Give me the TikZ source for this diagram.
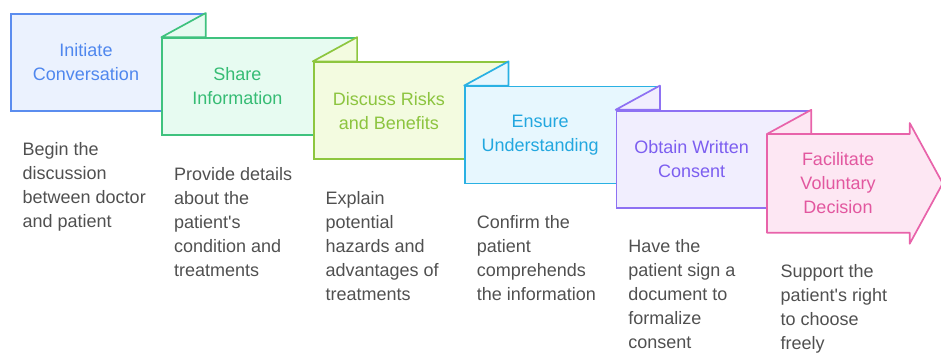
\documentclass[tikz,border=0pt]{standalone}
\usepackage{fontspec}
\setmainfont{Liberation Sans}
\usetikzlibrary{positioning}

\definecolor{blueline}{HTML}{5B8DEF}
\definecolor{bluefill}{HTML}{EBF2FE}
\definecolor{bluetext}{HTML}{4F87EE}
\definecolor{greenline}{HTML}{3FC27E}
\definecolor{greenfill}{HTML}{E7FBF1}
\definecolor{greentext}{HTML}{36BC74}
\definecolor{limeline}{HTML}{8DC63F}
\definecolor{limefill}{HTML}{F3FBE0}
\definecolor{limetext}{HTML}{8CC43F}
\definecolor{cyanline}{HTML}{2AB1E3}
\definecolor{cyanfill}{HTML}{E7F7FE}
\definecolor{cyantext}{HTML}{22A7DF}
\definecolor{purpleline}{HTML}{8E71F3}
\definecolor{purplefill}{HTML}{F1EEFE}
\definecolor{purpletext}{HTML}{7C5EF0}
\definecolor{pinkline}{HTML}{E863AA}
\definecolor{pinkfill}{HTML}{FDE7F3}
\definecolor{pinktext}{HTML}{E2579F}
\definecolor{desctext}{HTML}{505050}

\tikzset{
  stepbox/.style={rectangle, minimum width=194pt, minimum height=97pt,
    inner sep=0pt, line width=1.7pt, anchor=north west},
  fold/.style={line width=1.7pt, line join=round},
  title/.style={align=center, inner sep=0pt, font=\fontsize{18}{24}\selectfont},
  desc/.style={align=left, inner sep=0pt, anchor=north west, text=desctext,
    font=\fontsize{18}{24}\selectfont}
}

\begin{document}
\begin{tikzpicture}[x=1pt, y=-1pt]

  \newcommand\X{151.4}
  \newcommand\Y{24.2}

  \useasboundingbox (0,0) rectangle (941,354);

  % step boxes, each one folded over the one before
  \node[stepbox, draw=blueline, fill=bluefill] (b1) at (10+0*\X, 13+0*\Y) {};

  \node[stepbox, draw=greenline, fill=greenfill] (b2) at (10+1*\X, 13+1*\Y) {};
  \draw[fold, draw=greenline, fill=greenfill] (b2.north west) -- (b1.north east) -- (b1.north east |- b2.north) -- cycle;

  \node[stepbox, draw=limeline, fill=limefill] (b3) at (10+2*\X, 13+2*\Y) {};
  \draw[fold, draw=limeline, fill=limefill] (b3.north west) -- (b2.north east) -- (b2.north east |- b3.north) -- cycle;

  \node[stepbox, draw=cyanline, fill=cyanfill] (b4) at (10+3*\X, 13+3*\Y) {};
  \draw[fold, draw=cyanline, fill=cyanfill] (b4.north west) -- (b3.north east) -- (b3.north east |- b4.north) -- cycle;

  \node[stepbox, draw=purpleline, fill=purplefill] (b5) at (10+4*\X, 13+4*\Y) {};
  \draw[fold, draw=purpleline, fill=purplefill] (b5.north west) -- (b4.north east) -- (b4.north east |- b5.north) -- cycle;

  % last step is an arrow
  \node[stepbox, minimum width=141pt] (b6) at (10+5*\X, 13+5*\Y) {};
  \draw[fold, draw=pinkline, fill=pinkfill] (b6.north west) -- (b6.north east) -- ([yshift=11pt]b6.north east)
    -- ([xshift=33pt]b6.east) -- ([yshift=-11pt]b6.south east) -- (b6.south east) -- (b6.south west) -- cycle;
  \draw[fold, draw=pinkline, fill=pinkfill] (b6.north west) -- (b5.north east) -- (b5.north east |- b6.north) -- cycle;

  % titles
  \node[title, text=bluetext] (t1) at ([xshift=76pt]b1.west) {Initiate\\Conversation};
  \node[title, text=greentext] (t2) at ([xshift=76pt]b2.west) {Share\\Information};
  \node[title, text=limetext] (t3) at ([xshift=76pt]b3.west) {Discuss Risks\\and Benefits};
  \node[title, text=cyantext] (t4) at ([xshift=76pt]b4.west) {Ensure\\Understanding};
  \node[title, text=purpletext] (t5) at ([xshift=76pt]b5.west) {Obtain Written\\Consent};
  \node[title, text=pinktext] (t6) at ([xshift=71pt]b6.west) {Facilitate\\Voluntary\\Decision};

  % descriptions under the boxes
  \node[desc] (d1) at ([xshift=12.5pt, yshift=-31pt]b1.south west) {Begin the\\discussion\\between doctor\\and patient};
  \node[desc] (d2) at ([xshift=12.5pt, yshift=-31pt]b2.south west) {Provide details\\about the\\patient\textquotesingle s\\condition and\\treatments};
  \node[desc] (d3) at ([xshift=12.5pt, yshift=-31pt]b3.south west) {Explain\\potential\\hazards and\\advantages of\\treatments};
  \node[desc] (d4) at ([xshift=12.5pt, yshift=-31pt]b4.south west) {Confirm the\\patient\\comprehends\\the information};
  \node[desc] (d5) at ([xshift=12.5pt, yshift=-31pt]b5.south west) {Have the\\patient sign a\\document to\\formalize\\consent};
  \node[desc] (d6) at ([xshift=13.5pt, yshift=-32pt]b6.south west) {Support the\\patient\textquotesingle s right\\to choose\\freely};

\end{tikzpicture}
\end{document}
